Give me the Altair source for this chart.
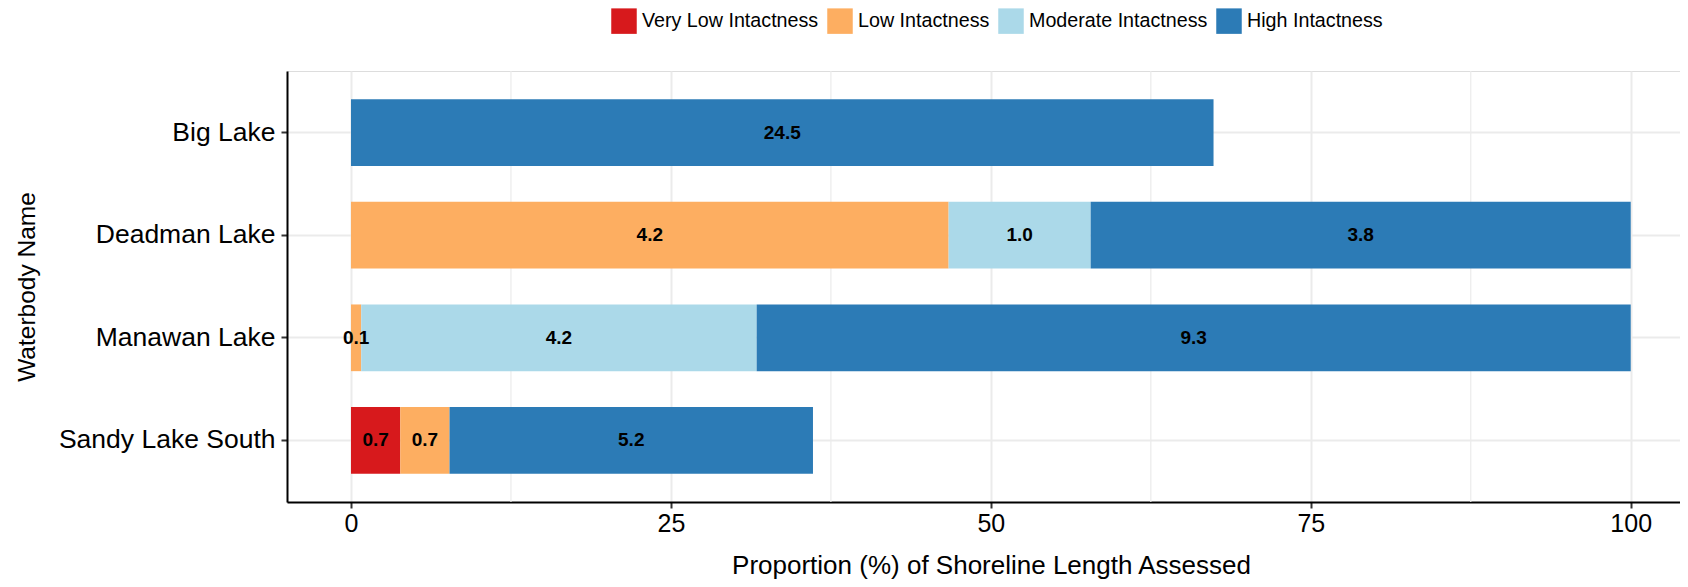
import altair as alt
import pandas as pd

# ---- data ----
lakes = ["Big Lake", "Deadman Lake", "Manawan Lake", "Sandy Lake South"]
classes = ["Very Low Intactness", "Low Intactness", "Moderate Intactness", "High Intactness"]
colors = ["#d7191c", "#fdae61", "#abd9e9", "#2c7bb6"]

seg_lake = ["Big Lake",
            "Deadman Lake", "Deadman Lake", "Deadman Lake",
            "Manawan Lake", "Manawan Lake", "Manawan Lake",
            "Sandy Lake South", "Sandy Lake South", "Sandy Lake South"]
seg_class = ["High Intactness",
             "Low Intactness", "Moderate Intactness", "High Intactness",
             "Low Intactness", "Moderate Intactness", "High Intactness",
             "Very Low Intactness", "Low Intactness", "High Intactness"]
seg_pct = [67.4, 46.7, 11.1, 42.2, 0.8, 30.9, 68.3, 3.85, 3.85, 28.4]
seg_km = [24.5, 4.2, 1.0, 3.8, 0.1, 4.2, 9.3, 0.7, 0.7, 5.2]

x_ticks = [0, 25, 50, 75, 100]
minor_grid = [12.5, 37.5, 62.5, 87.5]

# ---- build table ----
df = pd.DataFrame({"lake": seg_lake, "cls": seg_class, "pct": seg_pct, "km": seg_km})
df["order"] = df["cls"].apply(classes.index)
df = df.sort_values(["lake", "order"]).reset_index(drop=True)
df["end"] = df.groupby("lake")["pct"].cumsum()
df["start"] = df["end"] - df["pct"]
df["mid"] = (df["start"] + df["end"]) / 2
df["label"] = df["km"].map(lambda v: f"{v:.1f}")

FONT = "Liberation Sans"
XTITLE = "Proportion (%) of Shoreline Length Assessed"

xscale = alt.Scale(domain=[-5, 103.85], nice=False, zero=False)
xaxis = alt.Axis(values=x_ticks, title=XTITLE, grid=True, gridColor="#ebebeb", gridWidth=2,
                 domainColor="black", domainWidth=2, tickColor="#333333", tickWidth=2, tickSize=6,
                 labelFontSize=25, labelColor="black", labelPadding=3, labelFont=FONT,
                 titleFontSize=26, titleFontWeight="normal", titleColor="black", titleFont=FONT,
                 titlePadding=16, titleX=704)
yscale = alt.Scale(domain=lakes, paddingInner=0.35, paddingOuter=0.275)
yaxis = alt.Axis(title="Waterbody Name", grid=True, gridColor="#ebebeb", gridWidth=2, bandPosition=0.5,
                 domainColor="black", domainWidth=2, tickColor="#333333", tickWidth=2, tickSize=6,
                 labelFontSize=26.5, labelColor="black", labelPadding=6, labelFont=FONT, labelLimit=400,
                 titleFontSize=24.5, titleFontWeight="normal", titleColor="black", titleFont=FONT,
                 titlePadding=48)

minor = alt.Chart(pd.DataFrame({"start": minor_grid})).mark_rule(color="#ebebeb", strokeWidth=1.2).encode(
    x=alt.X("start:Q", scale=xscale, axis=xaxis)
)

bars = alt.Chart(df).mark_bar().encode(
    x=alt.X("start:Q", scale=xscale, axis=xaxis),
    x2="end:Q",
    y=alt.Y("lake:N", scale=yscale, axis=yaxis, sort=lakes),
    color=alt.Color("cls:N", scale=alt.Scale(domain=classes, range=colors),
                    legend=alt.Legend(title=None, orient="none", legendX=324, legendY=-63,
                                      direction="horizontal", symbolType="square", symbolSize=650,
                                      symbolStrokeWidth=0, symbolOpacity=1, labelFontSize=19.7,
                                      labelFont=FONT, labelColor="black", labelOffset=5,
                                      labelLimit=400, columnPadding=8, padding=0)),
)

text = alt.Chart(df).mark_text(fontWeight="bold", fontSize=19, color="black", font=FONT,
                               baseline="middle", align="center").encode(
    x=alt.X("mid:Q", scale=xscale, axis=xaxis),
    y=alt.Y("lake:N", scale=yscale, axis=yaxis, sort=lakes),
    text="label:N",
)

chart = alt.layer(minor, bars, text).properties(
    width=1393, height=431,
    padding={"left": 279, "top": 63, "right": 0, "bottom": 77},
    autosize=alt.AutoSizeParams(type="none"),
).configure_view(stroke=None).configure(font=FONT)

chart.save("out.html", embed_options={"renderer": "svg", "actions": False})
